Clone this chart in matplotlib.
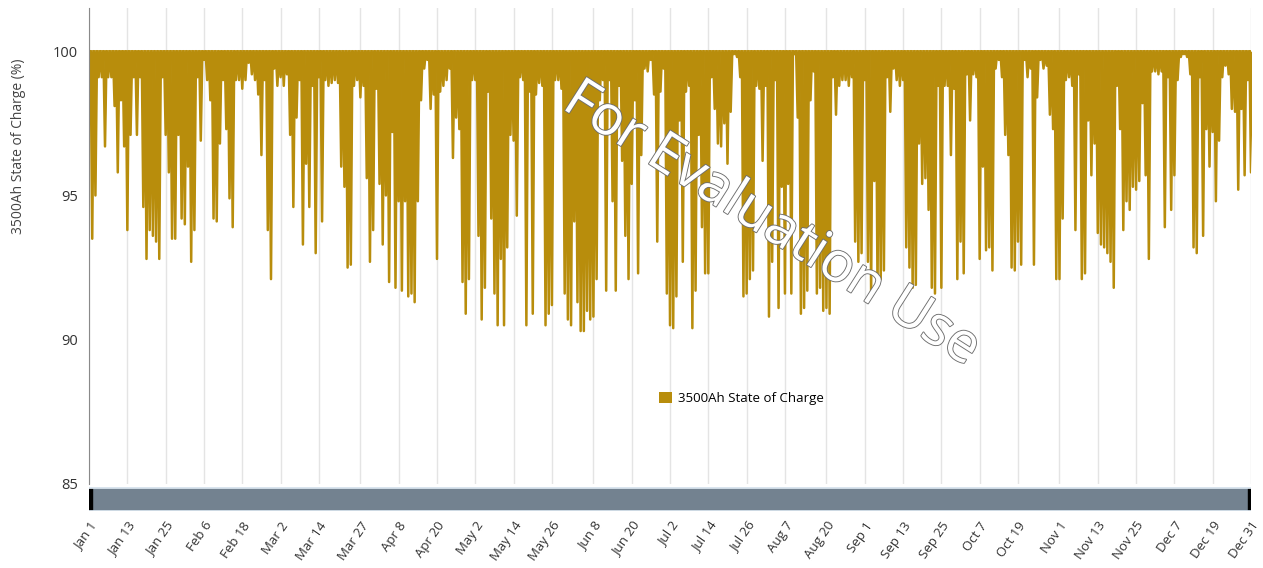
import numpy as np
import pandas as pd
import matplotlib
matplotlib.use('Agg')
import matplotlib.pyplot as plt
import matplotlib.patheffects as pe
from matplotlib.patches import Patch

plt.rcParams['font.family'] = ['Open Sans', 'DejaVu Sans']

# daily minimum state of charge (%), Jan 1 .. Dec 31, grouped by tick interval
soc_min = [
    97.7, 93.5, 95.0, 99.1, 99.1, 96.7, 99.1, 99.1, 98.1, 95.8, 98.3, 96.7,
    93.8, 97.1, 99.1, 97.1, 99.1, 94.6, 92.8, 93.8, 93.6, 93.4, 92.8, 99.1,
    97.1, 95.8, 93.5, 93.5, 97.1, 94.2, 94.0, 96.0, 92.7, 93.8, 99.1, 96.9,
    99.7, 99.0, 98.3, 94.2, 94.1, 96.8, 99.0, 97.3, 94.9, 93.9, 99.0, 99.0,
    98.7, 99.0, 99.6, 99.2, 99.0, 98.5, 96.4, 99.0, 93.8, 92.1, 99.4, 98.8,
    99.1, 98.8, 99.2, 97.1, 94.6, 97.7, 99.0, 93.3, 96.1, 94.6, 98.8, 93.0,
    99.1, 94.1, 99.0, 98.8, 98.9, 99.0, 98.9, 96.0, 95.3, 92.5, 92.6, 98.8, 99.0,
    98.4, 98.8, 95.6, 92.7, 93.8, 98.7, 95.4, 93.3, 95.0, 92.0, 97.2, 91.8,
    94.8, 91.7, 94.8, 91.5, 91.6, 91.3, 94.8, 98.3, 99.4, 99.7, 98.0, 98.5,
    92.8, 98.6, 98.8, 99.0, 99.4, 96.3, 97.7, 97.3, 92.0, 90.9, 92.1, 99.0,
    99.0, 93.6, 90.7, 91.8, 98.6, 94.2, 91.6, 90.5, 92.8, 90.5, 93.2, 97.1,
    96.9, 94.3, 99.1, 99.0, 90.5, 98.6, 90.9, 98.5, 98.9, 98.8, 90.5, 90.9,
    91.2, 99.0, 99.0, 98.7, 91.6, 90.7, 90.5, 94.1, 91.3, 90.3, 90.3, 91.0, 90.7,
    90.8, 92.1, 98.3, 99.0, 91.7, 99.0, 94.8, 91.7, 98.8, 96.2, 93.6, 92.1,
    95.4, 98.3, 92.3, 96.4, 99.4, 99.3, 99.7, 98.5, 93.4, 98.6, 99.4, 91.6,
    90.5, 90.4, 91.5, 97.6, 92.7, 98.6, 98.8, 90.4, 91.7, 97.1, 93.9, 92.3,
    92.3, 99.1, 98.0, 96.8, 96.7, 97.5, 96.1, 97.9, 99.9, 99.8, 99.1, 91.5,
    91.6, 92.1, 92.4, 98.8, 98.7, 96.2, 98.8, 90.8, 92.7, 99.0, 91.1, 95.3,
    91.6, 95.4, 91.6, 99.9, 97.7, 90.9, 91.1, 91.7, 98.3, 99.3, 91.6, 91.8, 91.0,
    91.1, 90.9, 99.1, 97.8, 98.8, 99.0, 99.0, 98.8, 99.1, 93.4, 92.7, 93.0,
    99.0, 92.7, 91.6, 95.5, 91.8, 92.1, 92.4, 99.1, 97.9, 99.4, 99.0, 98.8,
    99.0, 93.2, 92.5, 91.8, 91.9, 96.8, 95.4, 95.6, 94.5, 91.8, 91.6, 98.8,
    91.8, 98.8, 98.8, 96.4, 98.7, 92.1, 93.4, 92.3, 99.2, 97.6, 99.2, 99.1,
    92.8, 96.0, 93.1, 93.2, 92.4, 99.4, 99.7, 99.1, 97.1, 96.4, 92.5, 92.4,
    93.4, 92.6, 99.7, 99.1, 99.4, 92.6, 98.4, 99.7, 99.4, 99.5, 97.8, 97.3, 92.1,
    92.1, 94.2, 99.0, 99.1, 98.8, 93.8, 99.2, 92.1, 92.3, 97.6, 95.7, 96.8,
    93.7, 93.3, 93.2, 93.0, 92.7, 91.8, 98.8, 97.3, 93.8, 94.8, 94.5, 95.3,
    95.2, 95.5, 98.2, 95.7, 92.8, 99.3, 99.3, 99.2, 99.3, 93.9, 99.1, 94.5,
    95.7, 99.0, 99.8, 99.9, 99.8, 99.2, 93.2, 93.0, 99.1, 93.6, 97.3, 96.0,
    97.2, 94.8, 96.9, 99.1, 99.5, 99.2, 98.0, 97.9, 95.2, 98.0, 95.7, 99.0, 95.8,
]
full_charge = 100.0

tick_labels = ['Jan 1', 'Jan 13', 'Jan 25', 'Feb 6', 'Feb 18', 'Mar 2', 'Mar 14',
               'Mar 27', 'Apr 8', 'Apr 20', 'May 2', 'May 14', 'May 26', 'Jun 8',
               'Jun 20', 'Jul 2', 'Jul 14', 'Jul 26', 'Aug 7', 'Aug 20', 'Sep 1',
               'Sep 13', 'Sep 25', 'Oct 7', 'Oct 19', 'Nov 1', 'Nov 13', 'Nov 25',
               'Dec 7', 'Dec 19', 'Dec 31']

gold = '#B88D0C'
days = np.arange(len(soc_min))
tick_pos = [(pd.Timestamp(f'{t} 2019') - pd.Timestamp('2019-01-01')).days
            for t in tick_labels]

# full at each day boundary, down to the daily minimum in between
x = np.column_stack([days - 0.5, days]).ravel()
y = np.column_stack([np.full(len(days), full_charge), soc_min]).ravel()
x = np.append(x, days[-1] + 0.5)
y = np.append(y, full_charge)

fig = plt.figure(figsize=(12.63, 5.68), dpi=100)
ax = fig.add_axes([0.0705, 0.148, 0.920, 0.838])
ax.fill_between(x, y, full_charge, color=gold, lw=0)
ax.plot(x, y, color=gold, lw=1.8)
ax.axhline(full_charge, color=gold, lw=1.2)

ax.set_xlim(0, 364)
ax.set_ylim(85, 101.5)
ax.set_yticks([85, 90, 95, 100])
ax.set_xticks(tick_pos)
ax.tick_params(axis='x', length=0, labelbottom=False)
ax.tick_params(axis='y', length=0, labelsize=10.5, labelcolor='#333333', pad=8)
ax.grid(axis='x', color='#e4e4e4', lw=1)
ax.set_axisbelow(True)
for side in ['top', 'right', 'bottom']:
    ax.spines[side].set_visible(False)
ax.spines['left'].set_color('#8a8a8a')

ax.set_ylabel('3500Ah State of Charge (%)', fontsize=10, color='#444444')
ax.yaxis.set_label_coords(-0.054, 0.71)

ax.legend(handles=[Patch(facecolor=gold, label='3500Ah State of Charge')],
          loc='center left', bbox_to_anchor=(0.480, 0.18), frameon=False,
          fontsize=9.5, handlelength=1.0, handleheight=1.0, handletextpad=0.5)

# watermark
wm = ax.text(0.587, 0.545, 'For Evaluation Use', transform=ax.transAxes,
             fontsize=40, rotation=-32.5, ha='center', va='center', color='white',
             zorder=5)
wm.set_path_effects([pe.Stroke(linewidth=1.3, foreground='#6e6e6e'), pe.Normal()])

# range scroll bar under the plot
sb = fig.add_axes([0.0705, 0.1004, 0.920, 0.0423])
sb.axvspan(0, 364, color='#738290')
sb.axvspan(0, 1.0, color='black')
sb.axvspan(363, 364, color='black')
sb.set_xlim(0, 364)
sb.set_ylim(0, 1)
sb.set_yticks([])
sb.set_xticks(tick_pos)
sb.set_xticklabels(tick_labels, rotation=55, ha='right', rotation_mode='anchor',
                   fontsize=9.5, color='#333333')
sb.tick_params(axis='x', length=0, pad=6)
for side in sb.spines:
    sb.spines[side].set_visible(False)
sb.axhline(1, color='#d9e4ee', lw=2)
sb.axhline(0, color='#d9e4ee', lw=2)

fig.savefig('out.png', dpi=100, facecolor='white')
